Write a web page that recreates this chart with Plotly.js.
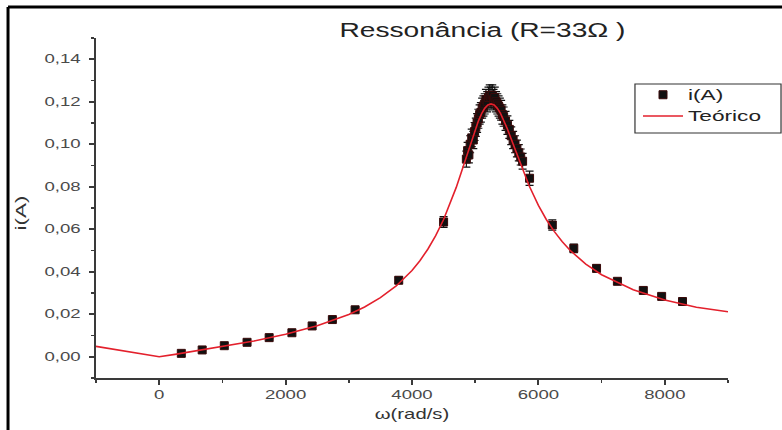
<!DOCTYPE html>
<html>
<head>
<meta charset="utf-8">
<script src="https://cdn.plot.ly/plotly-3.0.1.min.js"></script>
<style>
  html, body { margin: 0; padding: 0; background: #fff; }
  #chart { width: 782px; height: 430px; }
</style>
</head>
<body>
<div id="chart"></div>
<script>
// Experimental points: omega (rad/s) and current (A)
const wExp = [350, 680, 1030, 1390, 1740, 2100, 2420, 2740, 3100, 3790, 4500,
  4860, 4880, 4900, 4920, 4945, 4970, 4990, 5010, 5030, 5050, 5070, 5090, 5110, 5130,
  5150, 5170, 5190, 5210, 5230, 5250, 5270, 5290, 5310, 5330, 5350, 5370, 5390, 5410,
  5430, 5450, 5480, 5510, 5540, 5570, 5600, 5630, 5660, 5690, 5720, 5750,
  5860, 6220, 6560, 6920, 7250, 7660, 7950, 8280];
const iExp = [0.0016, 0.0032, 0.0052, 0.0068, 0.0090, 0.0113, 0.0145, 0.0175, 0.0221, 0.0360, 0.0634,
  0.093, 0.097, 0.095, 0.100, 0.103, 0.102, 0.106, 0.108, 0.110, 0.112, 0.114, 0.115, 0.117, 0.118,
  0.119, 0.121, 0.120, 0.122, 0.123, 0.122, 0.123, 0.121, 0.122, 0.120, 0.119, 0.118, 0.117, 0.116,
  0.114, 0.113, 0.111, 0.109, 0.107, 0.104, 0.102, 0.100, 0.098, 0.096, 0.094, 0.092,
  0.084, 0.062, 0.051, 0.0416, 0.0355, 0.0312, 0.0284, 0.0260];

// Theoretical curve
const wTeo = [-1000, 0, 250, 500, 750, 1000, 1250, 1500, 2000, 2500, 3000, 3250, 3500, 3750, 4000,
  4125, 4250, 4375, 4500, 4600, 4700, 4800, 4900, 4950, 5000, 5050, 5100, 5150, 5200, 5250,
  5300, 5350, 5400, 5450, 5500, 5550, 5600, 5650, 5700, 5750, 5850, 6000, 6125, 6250, 6375,
  6500, 6750, 7000, 7500, 8000, 8500, 9000];
const iTeo = [0.0049, 0.0000, 0.0011, 0.0023, 0.0035, 0.0047, 0.0060, 0.0074, 0.0106, 0.0146, 0.0199, 0.0234, 0.0278, 0.0333, 0.0406,
  0.0452, 0.0506, 0.0570, 0.0646, 0.0717, 0.0797, 0.0886, 0.0979, 0.1026, 0.1069, 0.1109, 0.1143, 0.1169, 0.1185, 0.1190,
  0.1185, 0.1169, 0.1145, 0.1115, 0.1079, 0.1040, 0.1000, 0.0959, 0.0919, 0.0880, 0.0807, 0.0712, 0.0646, 0.0590, 0.0542,
  0.0501, 0.0436, 0.0386, 0.0315, 0.0267, 0.0233, 0.0212];

const xTickVals = [0, 2000, 4000, 6000, 8000];
const yTickVals = [0, 0.02, 0.04, 0.06, 0.08, 0.10, 0.12, 0.14];

const FONT = 'Liberation Sans, Arial, sans-serif';
const axisColor = '#3a3a3a';
const tickFont = {family: FONT, size: 12, color: '#4a4a4a'};

const expTrace = {
  x: wExp, y: iExp, type: 'scatter', mode: 'markers', name: 'i(A)',
  marker: {symbol: 'square', size: 8, color: '#111', line: {color: '#3a0a0a', width: 1}},
  error_y: {type: 'percent', value: 4, visible: true, color: '#111', thickness: 1.2, width: 4}
};
const teoTrace = {
  x: wTeo, y: iTeo, type: 'scatter', mode: 'lines', name: 'Teórico',
  line: {color: '#e3202c', width: 1.6}
};

const layout = {
  width: 782, height: 430,
  margin: {l: 96, r: 54, t: 38, b: 52},
  paper_bgcolor: '#fff', plot_bgcolor: '#fff',
  separators: ',.',
  font: {family: FONT, color: '#222'},
  title: {
    text: 'Ressonância (R=33Ω )',
    font: {size: 21, color: '#222', family: FONT},
    xref: 'container', yref: 'container', x: 0.617, y: 0.931, xanchor: 'center', yanchor: 'middle'
  },
  showlegend: true,
  legend: {
    x: 0.8576, y: 0.879, xanchor: 'left', yanchor: 'top',
    bgcolor: 'rgba(0,0,0,0)', borderwidth: 0,
    font: {size: 14, color: '#222', family: FONT},
    traceorder: 'normal', itemwidth: 40, tracegroupgap: 0
  },
  xaxis: {
    range: [-1000, 9000], tickvals: xTickVals, tickformat: 'd',
    showgrid: false, zeroline: false, showline: true, linecolor: axisColor, linewidth: 2,
    ticks: 'outside', ticklen: 5, tickwidth: 2, tickcolor: axisColor,
    minor: {dtick: 1000, tick0: 0, ticks: 'outside', ticklen: 3, tickwidth: 1.5, tickcolor: axisColor, showgrid: false},
    tickfont: tickFont,
    title: {text: 'ω(rad/s)', font: {size: 14, color: '#333', family: FONT}, standoff: 8}
  },
  yaxis: {
    range: [-0.01, 0.15], tickvals: yTickVals, tickformat: '.2f',
    showgrid: false, zeroline: false, showline: true, linecolor: axisColor, linewidth: 2,
    ticks: 'outside', ticklen: 5, tickwidth: 2, tickcolor: axisColor, ticklabelstandoff: 6,
    minor: {dtick: 0.01, tick0: 0, ticks: 'outside', ticklen: 3, tickwidth: 1.5, tickcolor: axisColor, showgrid: false},
    tickfont: tickFont,
    title: {text: 'i(A)', font: {size: 14, color: '#333', family: FONT}, standoff: 27}
  },
  shapes: [
    // image frame (top and left)
    {type: 'line', xref: 'paper', yref: 'paper', x0: -0.1392, x1: 1.09, y0: 1.0912, y1: 1.0912,
     line: {color: '#000', width: 3}, layer: 'above'},
    {type: 'line', xref: 'paper', yref: 'paper', x0: -0.1392, x1: -0.1392, y0: 1.0912, y1: -0.16,
     line: {color: '#000', width: 3}, layer: 'above'},
    // legend box
    {type: 'rect', xref: 'paper', yref: 'paper', x0: 0.8528, x1: 1.0839, y0: 0.7206, y1: 0.8647,
     line: {color: '#333', width: 1.2}, fillcolor: 'rgba(0,0,0,0)', layer: 'above'}
  ]
};

// widen text horizontally along its own direction (the reference uses a wide face)
function widen(el, sx, pre) {
  const x = parseFloat(el.getAttribute('x')) || 0;
  const y = parseFloat(el.getAttribute('y')) || 0;
  const tr = el.getAttribute('transform') || '';
  el.setAttribute('transform', (pre || '') + tr + ' translate(' + x + ',' + y + ') scale(' + sx + ',1) translate(' + (-x) + ',' + (-y) + ')');
}

Plotly.newPlot('chart', [expTrace, teoTrace], layout, {displayModeBar: false, staticPlot: true}).then(function (gd) {
  gd.querySelectorAll('.gtitle').forEach(function (t) { widen(t, 1.34); });
  gd.querySelectorAll('.xtick text, .ytick text').forEach(function (t) { widen(t, 1.55); });
  gd.querySelectorAll('.xtitle').forEach(function (t) { widen(t, 1.45); });
  gd.querySelectorAll('.ytitle').forEach(function (t) { widen(t, 1.6, 'translate(0,5) '); });
  gd.querySelectorAll('.legendtext').forEach(function (t) { widen(t, 1.62); });
  // let the widened legend text show beyond the legend's computed clip box
  gd.querySelectorAll('.legend [clip-path], .legend').forEach(function (e) { e.removeAttribute('clip-path'); });
});
</script>
</body>
</html>
